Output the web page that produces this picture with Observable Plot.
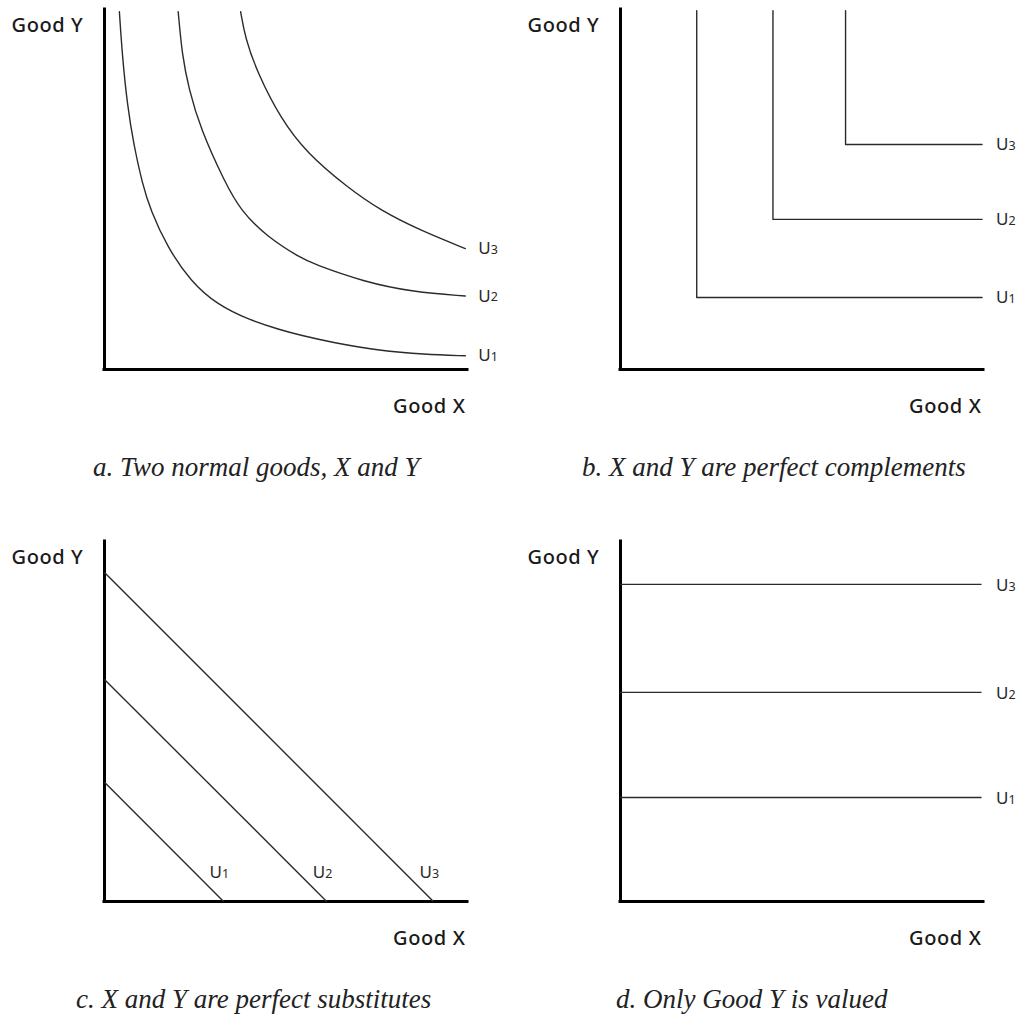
<!DOCTYPE html>
<html><head><meta charset="utf-8">
<script src="https://cdn.jsdelivr.net/npm/d3@7"></script>
<script src="https://cdn.jsdelivr.net/npm/@observablehq/plot@0.6"></script>
<style>
html,body{margin:0;padding:0;background:#fff;}
#root{position:relative;width:1023px;height:1017px;background:#fff;overflow:hidden;}
.panel{position:absolute;width:512px;height:430px;}
.panel svg{max-width:none !important;width:512px !important;height:430px !important;display:block;}
.panel svg g.lbl text, .panel svg text.lbl{letter-spacing:0.6px;font-weight:500;}
.cap{position:absolute;font-family:"Liberation Serif","Times New Roman",serif;font-style:italic;font-size:27px;line-height:27px;color:#222;white-space:nowrap;}
</style></head>
<body><div id="root"></div>
<script>
// ---------- data (units 0–100 on both axes) ----------
const axisLabelY = "Good Y";
const axisLabelX = "Good X";
const utilityName = "U";
const utilitySubs = ["1", "2", "3"];
const captions = [
  "a. Two normal goods, X and Y",
  "b. X and Y are perfect complements",
  "c. X and Y are perfect substitutes",
  "d. Only Good Y is valued"
];
// panel a: indifference curves
const curveU1 = [[4.1,99.4],[4.9,87.2],[6.3,73.3],[8.1,62.2],[10.4,51.7],[12.7,44.2],[17.3,34.0],[23.7,24.5],[31.0,18.0],[40.2,13.6],[48.5,11.0],[54.0,9.5],[62.3,7.6],[76.0,5.2],[88.0,4.2],[99.4,3.8]];
const curveU2 = [[20.3,99.4],[21.4,87.2],[23.2,78.1],[26.4,66.9],[33.3,51.7],[37.5,44.2],[44.8,36.8],[54.0,31.0],[57.6,29.3],[71.3,24.4],[85.1,21.5],[99.4,20.4]];
const curveU3 = [[37.5,99.4],[38.8,91.9],[42.1,82.5],[48.5,69.7],[55.8,60.0],[66.9,50.6],[76.0,44.2],[87.1,38.6],[99.4,33.6]];
// panel b: corners of the L-shaped curves
const cornerX = [21, 42, 62];
const cornerY = [20, 41.7, 62.5];
const lTop = 99.7, lEnd = 99.6;
// panel c: intercepts of the straight lines
const subYIntercept = [33.1, 61.7, 91.4];
const subXIntercept = [32.8, 61.2, 90.6];
// panel d: horizontal levels
const onlyYLevels = [28.9, 58.1, 88.1];
const onlyYEnd = 99.6;

// ---------- build ----------
const curvesA = [curveU1, curveU2, curveU3];
const lineStroke = "#2b2b2b", lineW = 1.4, textFill = "#1a1a1a";

function baseMarks() {
  return [
    Plot.ruleX([0], {stroke: "#000", strokeWidth: 3, strokeLinecap: "square"}),
    Plot.ruleY([0], {stroke: "#000", strokeWidth: 3, strokeLinecap: "square"}),
    Plot.text([axisLabelY], {frameAnchor: "top-left", lineAnchor: "middle", textAnchor: "start", dx: -93, dy: 16, fontSize: 20, fill: textFill, className: "lbl"}),
    Plot.text([axisLabelX], {frameAnchor: "bottom-right", lineAnchor: "middle", textAnchor: "end", dx: -2, dy: 37, fontSize: 20, fill: textFill, className: "lbl"})
  ];
}
function labelMarks(ends, dx, dy) {
  return [
    Plot.text(ends, {x: "x", y: "y", text: () => utilityName, textAnchor: "start", dx: dx, dy: dy, fontSize: 17, fill: "#2a2a2a"}),
    Plot.text(ends, {x: "x", y: "y", text: "sub", textAnchor: "start", dx: dx + 12.5, dy: dy + 1.4, fontSize: 12.5, fill: "#2a2a2a"})
  ];
}
function makePanel(marks) {
  return Plot.plot({
    width: 512, height: 430,
    marginLeft: 104, marginRight: 45, marginTop: 9, marginBottom: 61,
    x: {domain: [0, 100], axis: null},
    y: {domain: [0, 100], axis: null},
    style: {fontFamily: "'Noto Sans', 'Open Sans', sans-serif", background: "transparent", overflow: "visible"},
    marks: [...baseMarks(), ...marks]
  });
}

// panel a
const aPts = curvesA.flatMap((c, i) => c.map(([x, y]) => ({x, y, k: utilitySubs[i]})));
const aEnds = curvesA.map((c, i) => ({x: c[c.length - 1][0], y: c[c.length - 1][1], sub: utilitySubs[i]}));
const panelA = makePanel([
  Plot.line(aPts, {x: "x", y: "y", z: "k", curve: "basis", stroke: lineStroke, strokeWidth: lineW}),
  ...labelMarks(aEnds, 13, 0)
]);

// panel b
const bPts = cornerX.flatMap((cx, i) => [
  {x: cx, y: lTop, k: utilitySubs[i]},
  {x: cx, y: cornerY[i], k: utilitySubs[i]},
  {x: lEnd, y: cornerY[i], k: utilitySubs[i]}
]);
const bEnds = cornerY.map((cy, i) => ({x: lEnd, y: cy, sub: utilitySubs[i]}));
const panelB = makePanel([
  Plot.line(bPts, {x: "x", y: "y", z: "k", stroke: lineStroke, strokeWidth: lineW}),
  ...labelMarks(bEnds, 14, 0)
]);

// panel c
const cLines = subYIntercept.map((yi, i) => ({y1: yi, x2: subXIntercept[i], sub: utilitySubs[i]}));
const cEnds = cLines.map(d => ({x: d.x2, y: 0, sub: d.sub}));
const panelC = makePanel([
  Plot.link(cLines, {x1: 0, y1: "y1", x2: "x2", y2: 0, stroke: lineStroke, strokeWidth: lineW}),
  ...labelMarks(cEnds, -14, -29)
]);

// panel d
const dLines = onlyYLevels.map((y, i) => ({y, sub: utilitySubs[i]}));
const dEnds = dLines.map(d => ({x: onlyYEnd, y: d.y, sub: d.sub}));
const panelD = makePanel([
  Plot.ruleY(dLines, {y: "y", x1: 0, x2: onlyYEnd, stroke: lineStroke, strokeWidth: lineW}),
  ...labelMarks(dEnds, 14, 1)
]);

const root = document.getElementById("root");
const panels = [[panelA, 0, 0], [panelB, 516, 0], [panelC, 0, 532], [panelD, 516, 532]];
for (const [p, l, t] of panels) {
  const d = document.createElement("div");
  d.className = "panel";
  d.style.left = l + "px"; d.style.top = t + "px";
  d.appendChild(p);
  root.appendChild(d);
}
const capPos = [[93, 454], [582, 454], [76, 986], [616, 986]];
captions.forEach((c, i) => {
  const d = document.createElement("div");
  d.className = "cap";
  d.textContent = c;
  d.style.left = capPos[i][0] + "px"; d.style.top = capPos[i][1] + "px";
  root.appendChild(d);
});
</script>
</body></html>
